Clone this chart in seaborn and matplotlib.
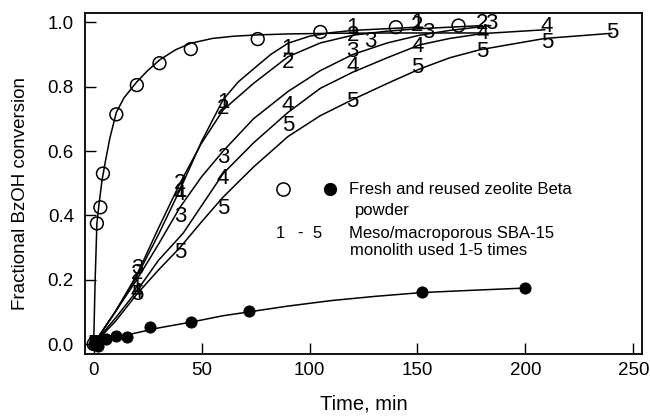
import matplotlib
matplotlib.use('Agg')
import matplotlib.pyplot as plt
import seaborn as sns
import pandas as pd
from matplotlib import font_manager

# fresh zeolite Beta powder (open circles) and its fitted curve
fresh_t = [0, 1.5, 3.1, 4.3, 10.5, 20, 30.5, 45, 76, 105, 140, 169]
fresh_y = [0.0, 0.375, 0.425, 0.53, 0.714, 0.805, 0.873, 0.917, 0.948, 0.97, 0.985, 0.99]
fresh_fit_t = [0, 0.7, 1.5, 2.4, 3.9, 5.5, 7.5, 10.5, 14, 20, 25, 30.5, 38, 45, 55, 65, 76, 90, 110, 140, 182]
fresh_fit_y = [0, 0.2, 0.375, 0.43, 0.51, 0.57, 0.64, 0.72, 0.765, 0.815, 0.85, 0.883, 0.915,
               0.935, 0.95, 0.957, 0.961, 0.964, 0.966, 0.967, 0.967]

# reused zeolite Beta powder (filled circles)
reused_t = [0, 1, 2, 5.5, 10.5, 15.5, 26, 45, 72, 152, 200]
reused_y = [0.0, 0.01, -0.005, 0.015, 0.025, 0.022, 0.053, 0.068, 0.103, 0.162, 0.174]
reused_fit_t = [0, 2, 5, 10, 15, 20, 30, 45, 60, 72, 90, 110, 130, 152, 175, 200]
reused_fit_y = [0, 0.008, 0.015, 0.022, 0.028, 0.035, 0.05, 0.068, 0.088, 0.1, 0.118,
                0.135, 0.148, 0.16, 0.167, 0.174]

# SBA-15 monolith, runs 1-5 (number markers)
run_t = {
    1: [0, 20, 40, 60, 90, 120, 150],
    2: [0, 20, 40, 60, 90, 120, 150, 180],
    3: [0, 20, 40, 60, 120, 128, 155, 184],
    4: [0, 20, 40, 60, 90, 120, 150, 180, 210],
    5: [0, 20, 40, 60, 90, 120, 150, 180, 210, 240],
}
run_y = {
    1: [0, 0.18, 0.475, 0.752, 0.92, 0.983, 1.0],
    2: [0, 0.22, 0.5, 0.733, 0.874, 0.96, 0.99, 0.997],
    3: [0, 0.235, 0.395, 0.58, 0.91, 0.94, 0.968, 0.995],
    4: [0, 0.16, 0.465, 0.515, 0.74, 0.862, 0.925, 0.964, 0.986],
    5: [0, 0.155, 0.283, 0.42, 0.678, 0.753, 0.86, 0.908, 0.936, 0.967],
}
fit_t = {
    1: [0, 10, 20, 30, 40, 50, 60, 67, 74, 82, 90, 100, 110, 120, 150],
    2: [0, 10, 20, 30, 40, 50, 60, 74, 90, 105, 120, 135, 150, 180],
    3: [0, 10, 20, 30, 40, 50, 60, 74, 90, 105, 120, 136, 151, 165, 184],
    4: [0, 10, 20, 30, 41.5, 50, 60, 74, 90, 105, 120, 136, 151, 165, 180, 209],
    5: [0, 10, 20, 30, 40, 50, 60, 74, 90, 105, 120, 136, 151, 165, 179, 209, 240],
}
fit_y = {
    1: [0, 0.1, 0.21, 0.34, 0.48, 0.63, 0.76, 0.815, 0.855, 0.9, 0.935, 0.957, 0.968, 0.975, 0.985],
    2: [0, 0.1, 0.215, 0.36, 0.5, 0.625, 0.728, 0.81, 0.893, 0.936, 0.96, 0.972, 0.98, 0.99],
    3: [0, 0.1, 0.2, 0.31, 0.425, 0.52, 0.6, 0.7, 0.785, 0.85, 0.9, 0.936, 0.96, 0.975, 0.99],
    4: [0, 0.08, 0.165, 0.26, 0.345, 0.43, 0.53, 0.625, 0.72, 0.795, 0.845, 0.89, 0.93, 0.95,
        0.965, 0.977],
    5: [0, 0.07, 0.155, 0.23, 0.3, 0.38, 0.457, 0.55, 0.645, 0.71, 0.76, 0.81, 0.855, 0.89,
        0.915, 0.95, 0.966],
}

sns.set_style('ticks')
plt.rcParams['font.family'] = ['Liberation Sans', 'DejaVu Sans']
plt.rcParams['text.color'] = 'black'
plt.rcParams['axes.labelcolor'] = 'black'

# key text is set in a condensed face when one is installed
installed = {f.name for f in font_manager.fontManager.ttflist}
if 'Liberation Sans Narrow' in installed:
    key_font, key_size = 'Liberation Sans Narrow', 14.5
else:
    key_font, key_size = 'Liberation Sans', 12

fig = plt.figure(figsize=(6.5, 4.18), dpi=100)
ax = fig.add_axes([0.1308, 0.1531, 0.8569, 0.8165])

# fitted curves
curves = [(fresh_fit_t, fresh_fit_y), (reused_fit_t, reused_fit_y)]
curves += [(fit_t[k], fit_y[k]) for k in range(1, 6)]
for t, y in curves:
    sns.lineplot(x=t, y=y, ax=ax, color='black', lw=1.1, sort=False, estimator=None)

# data points
sns.scatterplot(x=fresh_t, y=fresh_y, ax=ax, marker='o', s=85, facecolor='none',
                edgecolor='black', linewidth=1.1, zorder=3)
sns.scatterplot(x=reused_t, y=reused_y, ax=ax, marker='o', s=65, color='black',
                edgecolor='black', zorder=3)
for k in range(1, 6):
    for t, y in zip(run_t[k], run_y[k]):
        ax.text(t, y, str(k), fontsize=16, ha='center', va='center', zorder=4)

ax.set_xlim(-4, 254)
ax.set_ylim(-0.031, 1.03)
ax.set_xticks([0, 50, 100, 150, 200, 250])
ax.set_yticks([0.0, 0.2, 0.4, 0.6, 0.8, 1.0])
ax.yaxis.set_major_formatter(matplotlib.ticker.FormatStrFormatter('%.1f'))
ax.tick_params(direction='in', length=8, width=1.0, labelsize=13.5, colors='black')
ax.tick_params(axis='x', pad=6)
ax.tick_params(axis='y', pad=8)
for sp in ax.spines.values():
    sp.set_visible(True)
    sp.set_linewidth(1.3)
    sp.set_color('black')

ax.set_xlabel('Time, min', fontsize=14.5)
ax.set_ylabel('Fractional BzOH conversion', fontsize=13.5)
ax.xaxis.set_label_coords(0.5, -0.12)
ax.yaxis.set_label_coords(-0.1, 0.47)

# in-plot key
tr = ax.transAxes
kw = dict(transform=tr, fontsize=key_size, family=key_font, va='center')
ax.plot([0.3555], [0.4834], 'o', transform=tr, ms=9.5, mfc='none', mec='black', mew=1.1)
ax.plot([0.4399], [0.4834], 'o', transform=tr, ms=8.5, color='black')
ax.text(0.474, 0.4834, 'Fresh and reused zeolite Beta', **kw)
ax.text(0.4847, 0.4219, 'powder', **kw)
ax.text(0.350, 0.3545, '1', ha='center', **kw)
ax.text(0.386, 0.3545, '-', ha='center', **kw)
ax.text(0.4165, 0.3545, '5', ha='center', **kw)
ax.text(0.474, 0.3545, 'Meso/macroporous SBA-15', **kw)
ax.text(0.4758, 0.3047, 'monolith used 1-5 times', **kw)

fig.savefig('out.png', dpi=100)
